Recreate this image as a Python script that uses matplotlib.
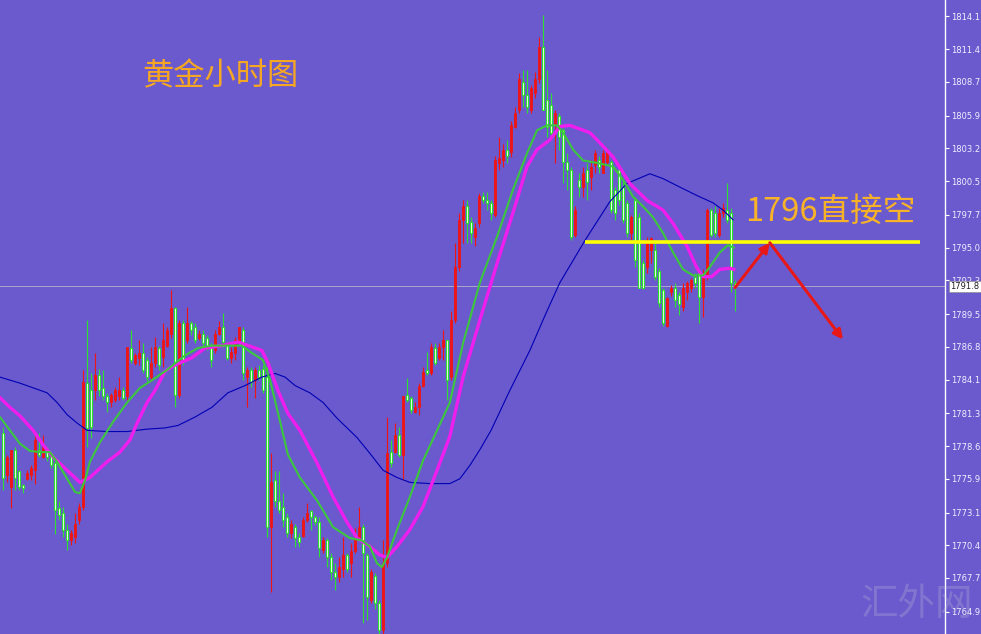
import matplotlib
matplotlib.use('Agg')
import matplotlib.pyplot as plt
import matplotlib.transforms as mtransforms
import numpy as np

plt.rcParams['font.family'] = ['Noto Sans CJK SC', 'DejaVu Sans']

# ---------------- data (hourly gold candles) ----------------
opens = [1779.7, 1776.2, 1775.2, 1778.3, 1776.5, 1775.4, 1775.9, 1776.2, 1776.6, 1778.3,
         1777.7, 1778.3, 1777.9, 1777.2, 1773.5, 1773.1, 1771.7, 1770.8, 1771.1, 1772.5,
         1773.6, 1783.8, 1783.2, 1783.2, 1784.5, 1783.4, 1782.7, 1782.2, 1782.4, 1782.7,
         1783.2, 1782.7, 1786.7, 1785.5, 1785.9, 1786.3, 1785.7, 1784.3, 1785.5, 1786.7,
         1786.0, 1786.9, 1787.9, 1790.0, 1782.8, 1788.8, 1787.4, 1788.8, 1788.4, 1787.5,
         1787.9, 1787.5, 1786.8, 1786.5, 1787.9, 1788.4, 1787.0, 1785.9, 1786.3, 1787.2,
         1788.2, 1784.3, 1784.9, 1784.1, 1784.9, 1785.0, 1784.3, 1771.9, 1775.8, 1774.1,
         1773.6, 1772.7, 1771.4, 1771.9, 1771.1, 1771.2, 1772.5, 1773.2, 1772.7, 1772.3,
         1770.0, 1770.8, 1769.4, 1768.2, 1767.8, 1768.4, 1769.6, 1768.9, 1769.9, 1771.0,
         1771.9, 1769.6, 1765.9, 1767.9, 1765.6, 1763.4, 1768.9, 1778.1, 1778.1, 1779.5,
         1777.9, 1782.8, 1782.6, 1781.4, 1781.8, 1783.6, 1784.9, 1784.6, 1786.7, 1785.9,
         1786.8, 1787.4, 1784.3, 1789.0, 1793.4, 1797.3, 1798.4, 1797.1, 1795.9, 1797.0,
         1799.3, 1798.9, 1798.7, 1797.7, 1802.0, 1802.2, 1803.1, 1802.9, 1805.0, 1806.4,
         1808.7, 1807.6, 1806.4, 1807.8, 1808.9, 1811.6, 1807.2, 1806.8, 1805.1, 1805.9,
         1804.7, 1802.1, 1801.4, 1796.0, 1800.6, 1800.0, 1801.4, 1800.8, 1801.8, 1802.2,
         1801.2, 1802.1, 1802.1, 1799.8, 1801.4, 1800.0, 1798.7, 1796.2, 1798.9, 1797.5,
         1793.7, 1793.4, 1794.8, 1794.8, 1793.1, 1791.5, 1788.5, 1791.3, 1791.7, 1791.1,
         1790.1, 1791.3, 1791.7, 1792.6, 1792.9, 1790.9, 1792.6, 1798.1, 1797.9, 1796.0,
         1797.9, 1798.1, 1797.9, 1792.1]
highs = [1780.2, 1777.9, 1778.3, 1778.5, 1776.6, 1775.5, 1776.6, 1777.0, 1779.8, 1779.7,
         1779.5, 1778.5, 1778.1, 1777.4, 1774.1, 1773.6, 1772.2, 1771.7, 1773.1, 1773.9,
         1784.9, 1789.0, 1784.6, 1786.3, 1785.0, 1784.9, 1783.0, 1783.0, 1783.5, 1784.3,
         1783.5, 1786.8, 1788.2, 1786.3, 1787.4, 1787.1, 1786.0, 1786.8, 1787.6, 1786.9,
         1788.8, 1788.4, 1791.5, 1790.1, 1789.0, 1789.0, 1790.1, 1788.9, 1788.8, 1788.2,
         1788.2, 1787.8, 1787.1, 1788.2, 1788.9, 1789.6, 1787.2, 1786.8, 1787.6, 1788.4,
         1788.4, 1785.1, 1785.1, 1785.1, 1785.3, 1785.3, 1785.1, 1778.0, 1776.5, 1776.5,
         1774.7, 1773.1, 1772.5, 1772.2, 1771.4, 1772.7, 1773.9, 1773.3, 1772.9, 1772.7,
         1771.1, 1771.0, 1769.8, 1768.9, 1769.4, 1771.1, 1769.8, 1770.6, 1771.8, 1773.6,
         1772.2, 1769.8, 1768.4, 1768.1, 1765.9, 1770.8, 1781.0, 1779.1, 1780.5, 1780.2,
         1782.7, 1784.2, 1782.7, 1782.2, 1783.8, 1785.1, 1786.4, 1787.1, 1787.1, 1787.1,
         1788.2, 1787.4, 1789.8, 1795.4, 1797.9, 1798.9, 1798.9, 1797.5, 1797.0, 1799.5,
         1799.6, 1799.6, 1798.9, 1802.6, 1804.1, 1803.6, 1803.9, 1805.5, 1806.6, 1809.4,
         1809.7, 1809.7, 1808.4, 1809.5, 1812.4, 1814.2, 1809.7, 1807.8, 1806.4, 1806.1,
         1804.9, 1802.8, 1801.7, 1798.4, 1801.2, 1801.7, 1802.0, 1802.2, 1803.1, 1802.6,
         1803.1, 1803.2, 1802.2, 1800.0, 1801.7, 1800.6, 1798.9, 1797.7, 1799.2, 1797.9,
         1794.0, 1795.9, 1795.9, 1795.6, 1793.3, 1791.7, 1790.9, 1791.9, 1792.1, 1791.3,
         1792.1, 1792.2, 1792.5, 1792.9, 1793.2, 1793.2, 1798.3, 1798.3, 1798.4, 1798.3,
         1798.7, 1800.3, 1798.3, 1792.3]
lows = [1775.0, 1775.6, 1773.5, 1775.0, 1775.0, 1774.7, 1775.8, 1775.8, 1775.5, 1777.7,
        1777.6, 1777.4, 1776.8, 1771.3, 1772.5, 1771.1, 1770.0, 1770.4, 1770.6, 1772.2,
        1773.3, 1778.5, 1779.3, 1782.4, 1782.7, 1782.4, 1781.4, 1781.8, 1782.2, 1782.4,
        1782.4, 1782.4, 1785.5, 1785.3, 1785.3, 1784.6, 1784.0, 1784.0, 1785.1, 1784.9,
        1785.1, 1786.8, 1787.5, 1781.8, 1782.6, 1785.3, 1787.1, 1787.8, 1787.1, 1787.4,
        1786.8, 1786.5, 1785.1, 1786.3, 1787.8, 1786.8, 1785.7, 1785.5, 1785.7, 1787.1,
        1784.1, 1781.8, 1783.5, 1782.6, 1784.1, 1783.0, 1771.1, 1766.5, 1773.6, 1773.1,
        1771.9, 1771.1, 1771.0, 1770.3, 1770.3, 1771.1, 1772.3, 1771.7, 1772.1, 1769.4,
        1769.8, 1768.6, 1767.5, 1766.7, 1767.4, 1767.8, 1768.2, 1767.8, 1769.8, 1770.8,
        1764.0, 1764.2, 1765.6, 1765.1, 1762.8, 1762.8, 1768.6, 1776.9, 1778.0, 1777.7,
        1775.8, 1782.2, 1781.3, 1781.3, 1781.2, 1783.5, 1784.5, 1784.5, 1785.3, 1785.7,
        1785.7, 1782.4, 1784.1, 1788.8, 1793.1, 1795.4, 1795.4, 1795.4, 1795.1, 1796.7,
        1798.7, 1798.1, 1797.3, 1797.5, 1801.4, 1801.7, 1802.0, 1802.5, 1804.9, 1806.1,
        1806.6, 1806.1, 1806.1, 1807.4, 1808.6, 1806.4, 1804.1, 1804.1, 1802.0, 1803.1,
        1800.3, 1799.8, 1795.6, 1795.9, 1799.2, 1799.2, 1798.9, 1799.8, 1801.2, 1801.2,
        1801.2, 1801.8, 1797.9, 1797.3, 1798.5, 1797.0, 1795.9, 1795.6, 1793.4, 1791.7,
        1791.6, 1792.9, 1793.7, 1792.3, 1790.1, 1788.5, 1788.4, 1791.0, 1790.1, 1789.4,
        1789.8, 1790.7, 1791.3, 1791.7, 1788.8, 1789.3, 1792.3, 1795.9, 1795.9, 1795.9,
        1797.5, 1797.0, 1791.3, 1789.8]
closes = [1776.0, 1777.7, 1778.3, 1776.0, 1775.2, 1775.1, 1776.4, 1776.8, 1779.1, 1777.9,
          1778.5, 1777.7, 1777.0, 1773.3, 1772.9, 1771.7, 1770.8, 1771.4, 1772.2, 1773.6,
          1783.9, 1780.1, 1780.2, 1784.5, 1783.2, 1782.7, 1782.2, 1782.8, 1783.2, 1783.2,
          1782.6, 1786.8, 1785.7, 1786.1, 1786.3, 1784.9, 1784.3, 1785.5, 1786.8, 1785.3,
          1787.4, 1788.2, 1790.0, 1782.8, 1788.8, 1785.7, 1788.8, 1788.2, 1787.4, 1787.9,
          1787.1, 1786.9, 1785.7, 1787.9, 1788.4, 1787.2, 1785.9, 1786.4, 1787.4, 1788.4,
          1784.6, 1784.9, 1783.9, 1784.9, 1784.3, 1783.2, 1771.9, 1775.6, 1774.1, 1773.3,
          1772.5, 1771.4, 1772.2, 1771.0, 1770.7, 1772.5, 1773.1, 1772.7, 1772.3, 1770.2,
          1770.8, 1769.4, 1768.2, 1767.8, 1768.6, 1769.6, 1768.4, 1769.9, 1771.0, 1771.9,
          1769.8, 1766.1, 1768.2, 1765.6, 1763.4, 1768.9, 1778.0, 1777.2, 1779.5, 1777.9,
          1782.7, 1782.4, 1781.6, 1781.8, 1783.6, 1784.7, 1784.6, 1786.8, 1785.5, 1786.8,
          1787.4, 1784.1, 1789.0, 1793.4, 1797.3, 1798.4, 1797.0, 1796.2, 1796.6, 1799.3,
          1798.9, 1798.7, 1797.9, 1802.2, 1802.4, 1803.1, 1802.6, 1805.1, 1806.1, 1808.9,
          1807.6, 1806.6, 1808.2, 1808.9, 1811.6, 1806.4, 1805.0, 1804.5, 1806.1, 1804.1,
          1802.1, 1801.4, 1795.9, 1798.1, 1800.0, 1801.2, 1800.4, 1801.7, 1802.8, 1801.7,
          1802.8, 1802.9, 1798.1, 1797.9, 1798.9, 1797.3, 1796.2, 1797.5, 1794.0, 1791.7,
          1791.7, 1795.6, 1795.8, 1792.6, 1790.4, 1788.8, 1790.8, 1791.7, 1790.7, 1790.3,
          1791.7, 1792.1, 1792.3, 1792.1, 1790.9, 1792.6, 1798.1, 1796.0, 1796.2, 1797.9,
          1798.3, 1797.3, 1792.1, 1791.8]

# moving averages (bar index, price)
ma_fast_idx = [-0.7, 1.8, 4.3, 6.8, 9.3, 11.8, 13.6, 16.1, 18.1, 19.3, 20.6, 21.8, 24.3, 27.6,
               31.1, 34.3, 37.6, 41.1, 45.6, 48.8, 52.3, 55.6, 59.8, 61.8, 65.1, 66.8, 69.3,
               71.3, 74.3, 78.6, 82.6, 86.8, 89.8, 91.8, 93.6, 94.8, 96.1, 98.6, 101.8, 105.1,
               108.6, 111.8, 115.1, 119.3, 123.6, 127.6, 131.1, 133.6, 136.1, 138.6, 140.1,
               142.6, 145.1, 148.6, 152.6, 155.1, 157.6, 160.1, 162.6, 165.1, 167.6, 170.1,
               172.6, 175.1, 176.8, 179.3, 181.3, 182.8]
ma_fast_val = [1781.0, 1779.9, 1778.8, 1778.2, 1778.1, 1778.1, 1777.3, 1775.9, 1774.8, 1774.7,
               1775.8, 1777.3, 1778.9, 1780.6, 1782.2, 1783.4, 1784.1, 1784.9, 1786.1, 1786.7,
               1786.9, 1786.9, 1786.9, 1786.4, 1785.7, 1784.1, 1780.7, 1777.9, 1776.0, 1774.1,
               1771.9, 1771.0, 1770.8, 1770.3, 1768.9, 1768.6, 1769.4, 1771.7, 1774.4, 1777.4,
               1779.9, 1782.2, 1787.1, 1792.1, 1795.9, 1799.8, 1802.8, 1804.7, 1805.1, 1805.1,
               1804.5, 1803.1, 1802.2, 1802.0, 1801.7, 1800.6, 1799.2, 1798.4, 1797.5, 1796.2,
               1794.6, 1793.2, 1792.7, 1792.7, 1793.4, 1794.6, 1795.2, 1795.0]

ma_mid_idx = [-0.7, 1.8, 4.3, 7.6, 10.1, 12.6, 16.1, 19.3, 21.8, 26.1, 29.3, 31.8, 33.6, 36.1,
              38.1, 40.6, 43.1, 47.3, 50.6, 54.8, 58.8, 62.3, 64.8, 66.3, 68.8, 71.3, 74.3,
              78.6, 82.6, 86.1, 88.6, 91.8, 94.3, 96.1, 98.6, 101.8, 105.1, 108.6, 111.8,
              115.1, 119.3, 123.6, 127.6, 131.1, 133.6, 136.8, 139.3, 141.8, 146.8, 148.6,
              152.6, 156.8, 161.1, 165.1, 167.6, 171.1, 173.6, 175.1, 177.3, 179.3, 181.8, 182.8]
ma_mid_val = [1782.6, 1781.8, 1781.1, 1779.9, 1778.7, 1777.7, 1776.6, 1775.6, 1776.0, 1777.3,
              1778.1, 1779.1, 1780.5, 1782.2, 1783.2, 1784.8, 1785.3, 1785.9, 1786.7, 1786.9,
              1787.2, 1786.8, 1786.5, 1785.5, 1783.2, 1781.3, 1779.9, 1777.2, 1774.4, 1772.3,
              1771.0, 1770.3, 1769.6, 1769.4, 1770.3, 1771.7, 1773.6, 1776.6, 1779.4, 1784.3,
              1789.0, 1793.7, 1797.9, 1801.7, 1803.1, 1803.9, 1805.0, 1805.1, 1804.5, 1803.9,
              1802.5, 1800.3, 1798.9, 1798.1, 1797.0, 1795.1, 1793.3, 1792.6, 1792.6, 1793.2,
              1793.3, 1793.2]

ma_slow_idx = [-0.7, 4.3, 11.1, 13.6, 16.1, 18.6, 21.1, 26.1, 31.1, 36.1, 40.6, 43.8, 48.1,
               52.3, 56.3, 60.6, 64.8, 68.1, 70.6, 73.1, 76.8, 80.1, 83.6, 88.6, 91.8, 95.1,
               98.6, 101.8, 106.8, 111.8, 114.3, 116.8, 119.3, 122.1, 126.8, 131.8, 135.6,
               139.3, 145.6, 151.8, 156.1, 161.8, 165.1, 169.3, 173.6, 177.6, 180.1, 182.6]
ma_slow_val = [1784.3, 1783.8, 1783.0, 1782.2, 1781.2, 1780.5, 1779.9, 1779.8, 1779.8, 1780.0,
               1780.1, 1780.3, 1781.0, 1781.8, 1783.0, 1783.6, 1784.3, 1784.6, 1784.3, 1783.6,
               1783.0, 1782.2, 1780.9, 1779.3, 1778.0, 1776.6, 1776.0, 1775.6, 1775.5, 1775.5,
               1775.9, 1777.0, 1778.3, 1779.9, 1783.2, 1786.5, 1789.4, 1792.1, 1795.6, 1798.8,
               1800.3, 1801.1, 1800.7, 1800.0, 1799.3, 1798.7, 1798.1, 1797.3]

y_ticks = [1814.1, 1811.4, 1808.7, 1805.9, 1803.2, 1800.5, 1797.7, 1795.0, 1792.3, 1789.5,
           1786.8, 1784.1, 1781.3, 1778.6, 1775.9, 1773.1, 1770.4, 1767.7, 1764.9]
last_price = 1791.8
resistance_price = 1795.5
resistance_span = [145.6, 229.3]
arrow_idx = [183.1, 191.8, 210.1]
arrow_price = [1791.7, 1795.4, 1787.4]
title_text = '黄金小时图'
note_text = '1796直接空'
watermark_text = '汇外网'

# ---------------- styling ----------------
BG = '#6a5acd'
RED = '#f01414'
GREEN = '#2ee02e'
W, H = 981, 634

fig = plt.figure(figsize=(W / 100, H / 100), dpi=100, facecolor=BG)
ax = fig.add_axes([0, 0, 945 / W, 1], facecolor=BG)

o = np.array(opens); h = np.array(highs); l = np.array(lows); c = np.array(closes)
x = np.arange(len(o))
up = c >= o
dn = ~up

ax.vlines(x[up], l[up], h[up], color=RED, lw=0.8, zorder=2)
ax.vlines(x[dn], l[dn], h[dn], color=GREEN, lw=0.8, zorder=2)
ax.bar(x[up], np.maximum(c - o, 0.08)[up], bottom=o[up], width=0.55,
       color=RED, edgecolor=RED, linewidth=0.6, zorder=3)
ax.bar(x[dn], np.maximum(o - c, 0.08)[dn], bottom=c[dn], width=0.5,
       color='#f4fff4', edgecolor=GREEN, linewidth=0.8, zorder=3)

ax.plot(ma_slow_idx, ma_slow_val, color='#0000b4', lw=0.8, zorder=4)
ax.plot(ma_mid_idx, ma_mid_val, color='#ee1eee', lw=2.4, zorder=5)
ax.plot(ma_fast_idx, ma_fast_val, color='#3cc83c', lw=1.5, zorder=6)

ax.axhline(last_price, color='#a9a9c9', lw=0.7, zorder=1)

ax.plot(resistance_span, [resistance_price, resistance_price], color='#ffff00',
        lw=2.6, solid_capstyle='butt', zorder=7)

for k in range(len(arrow_idx) - 1):
    ax.annotate('', xy=(arrow_idx[k + 1], arrow_price[k + 1]),
                xytext=(arrow_idx[k], arrow_price[k]),
                arrowprops=dict(arrowstyle='-|>', color='#e81818', lw=2.2,
                                mutation_scale=14, shrinkA=0, shrinkB=0),
                zorder=8)

ax.set_xlim(-0.675, 235.6)
ax.set_ylim(1763.07, 1815.46)
ax.set_xticks([])
ax.yaxis.tick_right()
ax.set_yticks(y_ticks)
ax.set_yticklabels([f'{v:.1f}' for v in y_ticks])
ax.tick_params(axis='y', length=3, width=0.8, color='white', labelsize=6,
               labelcolor='#f0f0ff', pad=1.5)
for lab in ax.get_yticklabels():
    lab.set_family('DejaVu Sans')
for side in ['top', 'left', 'bottom']:
    ax.spines[side].set_visible(False)
ax.spines['right'].set_color('white')
ax.spines['right'].set_linewidth(1.0)

trans = mtransforms.blended_transform_factory(ax.transAxes, ax.transData)
ax.text(1.0055, last_price, f'{last_price:.1f}', transform=trans, va='center', ha='left',
        fontsize=6, family='DejaVu Sans', color='#202020', zorder=20,
        bbox=dict(boxstyle='square,pad=0.15', facecolor='white', edgecolor='#909090', lw=0.5))

fig.text(142 / W, 1 - 76 / H, title_text, fontsize=22.5, color='#f5a623',
         ha='left', va='center')
fig.text(745 / W, 1 - 212 / H, note_text, fontsize=23.5, color='#f7b228',
         ha='left', va='center')
fig.text(917 / W, 1 - 605 / H, watermark_text, fontsize=27, color='#c8c8d8',
         alpha=0.25, ha='center', va='center')

fig.savefig('out.png', dpi=100, facecolor=BG)
